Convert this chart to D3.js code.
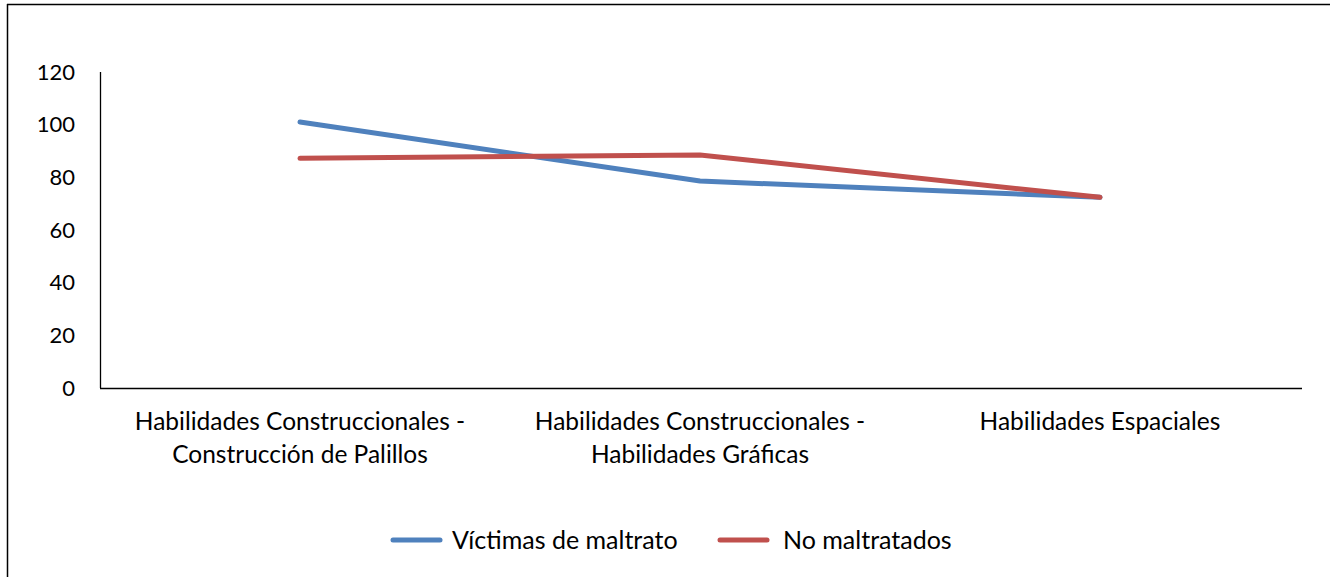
<!DOCTYPE html>
<html><head><meta charset="utf-8">
<script src="https://cdn.jsdelivr.net/npm/d3@7"></script>
<style>
html,body{margin:0;padding:0;background:#fff;}
svg{display:block;font-family:Lato, "Open Sans", sans-serif;}
</style></head>
<body>
<script>
const categories = [
  ["Habilidades Construccionales -", "Construcción de Palillos"],
  ["Habilidades Construccionales -", "Habilidades Gráficas"],
  ["Habilidades Espaciales"]
];
const seriesNames = ["Víctimas de maltrato", "No maltratados"];
const victimas = [101, 78.6, 72.4];
const noMaltratados = [87.2, 88.5, 72.4];
const yTicks = [0, 20, 40, 60, 80, 100, 120];
const colors = ["#4F81BD", "#C0504D"];

const W = 1330, H = 577;
const svg = d3.select("body").append("svg").attr("width", W).attr("height", H);

// outer chart border (only top and left visible)
svg.append("line").attr("x1", 7).attr("x2", W).attr("y1", 4.5).attr("y2", 4.5).attr("stroke", "#000").attr("stroke-width", 1.5);
svg.append("line").attr("x1", 7.5).attr("x2", 7.5).attr("y1", 4).attr("y2", H).attr("stroke", "#000").attr("stroke-width", 1.5);

const idx = categories.map((d, i) => i);
const x = d3.scalePoint().domain(idx).range([100, 1300]).padding(0.5);
const y = d3.scaleLinear().domain([0, 120]).range([388, 72]);

// axes
svg.append("line").attr("x1", 100.5).attr("x2", 100.5).attr("y1", y(120)).attr("y2", y(0)).attr("stroke", "#000").attr("stroke-width", 1.3);
svg.append("line").attr("x1", 100).attr("x2", 1302).attr("y1", y(0) + 0.5).attr("y2", y(0) + 0.5).attr("stroke", "#000").attr("stroke-width", 1.3);

svg.append("g").selectAll("text").data(yTicks).join("text")
  .attr("x", 75).attr("y", d => y(d)).attr("dy", "0.35em")
  .attr("text-anchor", "end").attr("font-size", 22).attr("fill", "#000")
  .text(d => d);

const catG = svg.append("g").selectAll("text").data(categories).join("text")
  .attr("text-anchor", "middle").attr("font-size", 24.5).attr("fill", "#000")
  .attr("x", (d, i) => x(i)).attr("y", 430);
catG.selectAll("tspan").data(d => d).join("tspan")
  .attr("x", function () { return d3.select(this.parentNode).attr("x"); })
  .attr("dy", (d, j) => j === 0 ? 0 : 33)
  .text(d => d);

const line = d3.line().x((d, i) => x(i)).y(d => y(d));
[victimas, noMaltratados].forEach((s, k) => {
  svg.append("path").datum(s).attr("d", line).attr("fill", "none")
    .attr("stroke", colors[k]).attr("stroke-width", 5)
    .attr("stroke-linecap", "round").attr("stroke-linejoin", "round");
});

// legend
const legX = [393, 720];
const leg = svg.append("g").selectAll("g").data(seriesNames).join("g")
  .attr("transform", (d, i) => `translate(${legX[i]},540)`);
leg.append("line").attr("x1", 0).attr("x2", 47).attr("stroke", (d, i) => colors[i])
  .attr("stroke-width", 5).attr("stroke-linecap", "round");
leg.append("text").attr("x", (d, i) => i === 0 ? 59 : 63).attr("dy", "0.35em")
  .attr("font-size", 25).attr("fill", "#000").text(d => d);
</script>
</body></html>
